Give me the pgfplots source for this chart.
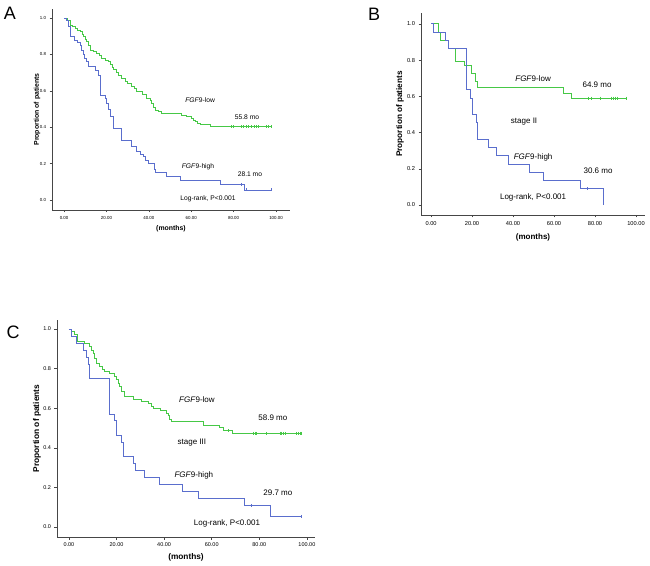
\documentclass[border=0pt]{standalone}
\usepackage{pgfplots}
\pgfplotsset{compat=1.18}
\usepackage{fontspec}
\setmainfont{Liberation Sans}
\definecolor{kmgreen}{RGB}{70,200,70}
\definecolor{kmblue}{RGB}{90,110,205}
\definecolor{axgray}{RGB}{70,70,70}
\newcommand{\fs}[1]{\fontsize{#1}{#1}\selectfont}
\pgfplotsset{
  km/.style={scale only axis, clip=false,
    axis x line*=bottom, axis y line*=left,
    axis line style={axgray, line width=0.6pt},
    tick align=outside, major tick length=2.5pt,
    tick style={axgray, line width=0.5pt},
    xtick={0,20,40,60,80,100},
    xticklabels={0.00,20.00,40.00,60.00,80.00,100.00},
    ytick={0,0.2,0.4,0.6,0.8,1.0},
    yticklabels={0.0,0.2,0.4,0.6,0.8,1.0},
    xlabel={(months)}, ylabel={Proportion of patients},
  },
  gl/.style={kmgreen, line width=0.8pt, const plot},
  bl/.style={kmblue, line width=0.8pt, const plot},
  gc/.style={kmgreen, only marks, mark=|, mark size=1.5pt, mark options={line width=0.5pt}},
  bc/.style={kmblue, only marks, mark=|, mark size=1.5pt, mark options={line width=0.5pt}},
}
\begin{document}
\begin{tikzpicture}
\path[use as bounding box] (0,0) rectangle (650pt,565pt);
\node at (10pt,551.7pt) {\fs{18}A};
\node at (374pt,550.5pt) {\fs{18}B};
\node at (13pt,233pt) {\fs{18}C};

% ---------------- Panel A ----------------
\begin{axis}[km, at={(52pt,355pt)}, anchor=south west,
  width=238pt, height=201pt,
  xmin=-5.7, xmax=106.6, ymin=-0.055, ymax=1.05,
  tick label style={font=\fs{4.4}},
  xlabel style={font=\bfseries\fs{6.9}, at={(rel axis cs:0.5,0)}, anchor=center, yshift=-19pt},
  ylabel style={font=\bfseries\fs{6.9}, at={(rel axis cs:0,0.5)}, anchor=center, yshift=15pt},
]
\addplot[gl] coordinates {(0,1.0)(1.5,0.99)(2.8,0.96)(4,0.952)(5.2,0.944)(6.5,0.935)(7.5,0.925)(8.5,0.912)(9.1,0.90)(10,0.885)(10.7,0.87)(11.5,0.85)(12.3,0.824)(14,0.815)(15.4,0.806)(16.5,0.795)(17.8,0.78)(19.5,0.77)(20.9,0.76)(22,0.745)(22.7,0.73)(23.3,0.72)(24.5,0.70)(25.6,0.687)(27,0.67)(28.8,0.65)(30,0.64)(31.9,0.626)(33,0.612)(34.3,0.595)(37,0.58)(39,0.558)(40.5,0.545)(41.4,0.53)(42.2,0.51)(43,0.495)(44.5,0.485)(46,0.476)(55.5,0.467)(57.5,0.458)(60,0.449)(61,0.44)(62,0.43)(63,0.42)(64.5,0.413)(69,0.404)(97.6,0.404)};
\addplot[gc] coordinates {(78.8,0.404)(79.6,0.404)(83.5,0.404)(84.6,0.404)(85.8,0.404)(87.1,0.404)(88.2,0.404)(89.5,0.404)(90.9,0.404)(91.8,0.404)(95.3,0.404)(96.4,0.404)(97.6,0.404)};
\addplot[bl] coordinates {(0,1.0)(1.3,0.99)(2,0.952)(2.8,0.90)(5,0.88)(6.5,0.865)(7.5,0.85)(8.3,0.825)(9,0.80)(9.8,0.78)(10.7,0.76)(11.5,0.735)(14.6,0.714)(16.2,0.687)(17,0.67)(17.2,0.577)(19.3,0.56)(20.2,0.53)(21,0.50)(21.7,0.458)(23.3,0.393)(27.2,0.33)(31.9,0.293)(34.3,0.266)(36,0.25)(37.4,0.238)(38.5,0.22)(39.8,0.2)(42.5,0.17)(43.2,0.15)(48.2,0.128)(54.8,0.105)(73.6,0.085)(85,0.055)(97.8,0.055)};
\addplot[bc] coordinates {(83.5,0.085)(86,0.055)(97.8,0.055)};
\node[font=\fs{6.7}] at (axis cs:64.2,0.55) {\textit{FGF}9-low};
\node[font=\fs{6.7}] at (axis cs:86.3,0.456) {55.8 mo};
\node[font=\fs{6.7}] at (axis cs:63.2,0.181) {\textit{FGF}9-high};
\node[font=\fs{6.7}] at (axis cs:87.7,0.143) {28.1 mo};
\node[font=\fs{6.7}] at (axis cs:67.9,0.005) {Log-rank, P<0.001};
\end{axis}

% ---------------- Panel B ----------------
\begin{axis}[km, at={(421pt,350pt)}, anchor=south west,
  width=224pt, height=202pt,
  xmin=-4.9, xmax=104.4, ymin=-0.055, ymax=1.06,
  tick label style={font=\fs{5.7}},
  xlabel style={font=\bfseries\fs{8}, at={(rel axis cs:0.5,0)}, anchor=center, yshift=-22pt},
  ylabel style={font=\bfseries\fs{8.2}, at={(rel axis cs:0,0.5)}, anchor=center, yshift=21pt},
]
\addplot[gl] coordinates {(0,1)(3.6,0.955)(4.6,0.91)(8.6,0.864)(12,0.795)(16.5,0.773)(19.8,0.727)(21.8,0.682)(22.8,0.648)(64.6,0.615)(68.3,0.59)(95.3,0.59)};
\addplot[gc] coordinates {(76.8,0.59)(78,0.59)(82.4,0.59)(88.1,0.59)(88.9,0.59)(89.8,0.59)(90.8,0.59)(95.3,0.59)};
\addplot[bl] coordinates {(0,1)(1,0.955)(7.2,0.909)(8.5,0.864)(17.1,0.636)(19.4,0.591)(20.3,0.5)(22.3,0.455)(22.8,0.364)(28,0.318)(31.7,0.273)(37.7,0.227)(47.9,0.182)(54.9,0.136)(73,0.091)(84.1,0)};
\addplot[bc] coordinates {(76.3,0.091)};
\node[font=\fs{8}] at (axis cs:49.8,0.696) {\textit{FGF}9-low};
\node[font=\fs{8}] at (axis cs:81,0.663) {64.9 mo};
\node[font=\fs{8}] at (axis cs:45.4,0.459) {stage II};
\node[font=\fs{8}] at (axis cs:49.8,0.265) {\textit{FGF}9-high};
\node[font=\fs{8}] at (axis cs:81.5,0.188) {30.6 mo};
\node[font=\fs{8}] at (axis cs:49.8,0.044) {Log-rank, P<0.001};
\end{axis}

% ---------------- Panel C ----------------
\begin{axis}[km, at={(57pt,28pt)}, anchor=south west,
  width=258pt, height=217pt,
  xmin=-5.0, xmax=103.4, ymin=-0.05, ymax=1.045,
  tick label style={font=\fs{5.5}},
  xlabel style={font=\bfseries\fs{8.3}, at={(rel axis cs:0.5,0)}, anchor=center, yshift=-20pt},
  ylabel style={font=\bfseries\fs{8.4}, at={(rel axis cs:0,0.5)}, anchor=center, yshift=20pt},
]
\addplot[gl] coordinates {(0,1)(1,0.987)(2.5,0.97)(3.5,0.935)(6.5,0.928)(8.5,0.91)(9.3,0.894)(10.2,0.877)(10.9,0.852)(11.6,0.826)(12.7,0.81)(14,0.797)(15.1,0.785)(17.2,0.776)(19.3,0.76)(20,0.743)(20.7,0.726)(21.4,0.709)(22.1,0.684)(23.5,0.66)(27,0.645)(30.5,0.633)(33.3,0.622)(34.5,0.608)(35.5,0.6)(38.5,0.59)(41,0.574)(41.7,0.566)(42.4,0.541)(43.1,0.532)(56.4,0.515)(63.4,0.502)(64.8,0.486)(68.8,0.473)(97.8,0.473)};
\addplot[gc] coordinates {(66.9,0.486)(77.4,0.473)(78.2,0.473)(78.9,0.473)(83,0.473)(88.7,0.473)(89.4,0.473)(90.1,0.473)(90.8,0.473)(95.7,0.473)(96.4,0.473)(97.1,0.473)(97.8,0.473)};
\addplot[bl] coordinates {(0,1)(1,0.964)(3,0.929)(6.3,0.893)(7.4,0.857)(8.1,0.821)(8.8,0.75)(17,0.571)(19,0.536)(20,0.464)(22.2,0.429)(23,0.357)(27,0.321)(28.1,0.286)(31.9,0.25)(37.9,0.214)(47.8,0.179)(54.6,0.143)(73.7,0.107)(84.7,0.054)(97.8,0.054)};
\addplot[bc] coordinates {(76.7,0.107)(97.8,0.054)};
\node[font=\fs{8}] at (axis cs:53.8,0.641) {\textit{FGF}9-low};
\node[font=\fs{8}] at (axis cs:85.7,0.55) {58.9 mo};
\node[font=\fs{8}] at (axis cs:51.7,0.424) {stage III};
\node[font=\fs{8}] at (axis cs:52.5,0.263) {\textit{FGF}9-high};
\node[font=\fs{8}] at (axis cs:87.8,0.172) {29.7 mo};
\node[font=\fs{8}] at (axis cs:66.4,0.02) {Log-rank, P<0.001};
\end{axis}
\end{tikzpicture}
\end{document}
